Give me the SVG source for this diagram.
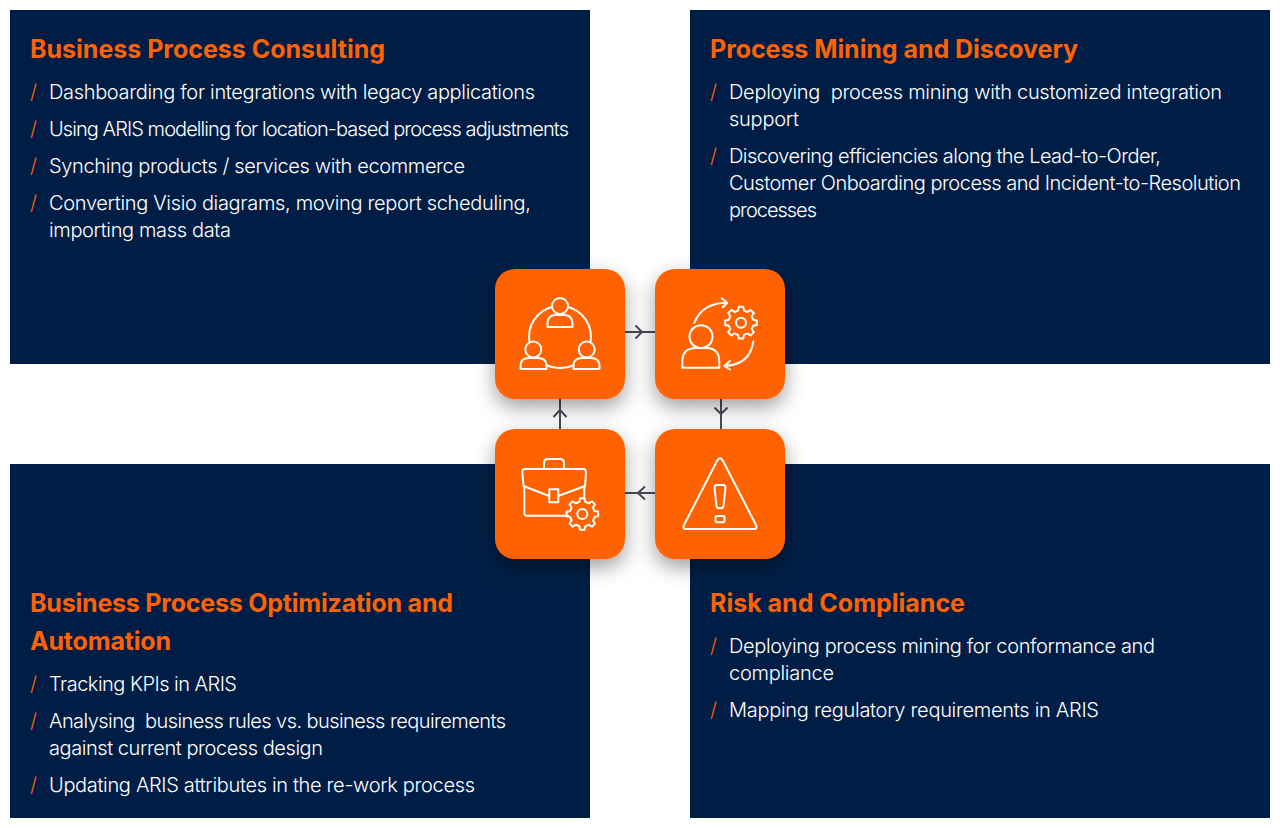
<svg xmlns="http://www.w3.org/2000/svg" width="1280" height="828" viewBox="0 0 1280 828">
<style>
.panel{fill:#001e45}
.card{fill:#ff6205;filter:url(#sh)}
.t{font-family:Inter,"Liberation Sans",sans-serif;font-weight:700;font-size:25px;fill:#ff6205;white-space:pre}
.b{font-family:Inter,"Liberation Sans",sans-serif;font-weight:300;font-size:20px;fill:#fff;white-space:pre}
.s{font-family:Inter,"Liberation Sans",sans-serif;font-weight:300;font-size:20px;fill:#ff6205}
.i{fill:none;stroke:#fff;stroke-width:2;stroke-linecap:round;stroke-linejoin:round}
.f{fill:#ff6205}
.c{fill:none;stroke:#4a4a58;stroke-width:2}
</style>
<defs>
<filter id="sh" x="-40%" y="-40%" width="180%" height="190%"><feDropShadow dx="0" dy="8" stdDeviation="10" flood-color="#000" flood-opacity="0.38"/></filter>
<g id="gear"><polygon points="12.13,-3.02 15.84,-2.23 15.84,2.23 12.13,3.02 10.71,6.44 12.78,9.62 9.62,12.78 6.44,10.71 3.02,12.13 2.23,15.84 -2.23,15.84 -3.02,12.13 -6.44,10.71 -9.62,12.78 -12.78,9.62 -10.71,6.44 -12.13,3.02 -15.84,2.23 -15.84,-2.23 -12.13,-3.02 -10.71,-6.44 -12.78,-9.62 -9.62,-12.78 -6.44,-10.71 -3.02,-12.13 -2.23,-15.84 2.23,-15.84 3.02,-12.13 6.44,-10.71 9.62,-12.78 12.78,-9.62 10.71,-6.44"/><circle r="5"/></g>
</defs>
<rect width="1280" height="828" fill="#fff"/>
<g id="panel-consulting">
<rect class="panel" x="10" y="10" width="580" height="354"/>
<text class="t" x="30" y="58" textLength="355">Business Process Consulting</text>
<text class="s" x="30" y="99">/</text><text class="b" x="49" y="99" textLength="486">Dashboarding for integrations with legacy applications</text>
<text class="s" x="30" y="136">/</text><text class="b" x="49" y="136" textLength="520">Using ARIS modelling for location-based process adjustments</text>
<text class="s" x="30" y="173">/</text><text class="b" x="49" y="173" textLength="416">Synching products / services with ecommerce</text>
<text class="s" x="30" y="210">/</text><text class="b" x="49" y="210" textLength="482">Converting Visio diagrams, moving report scheduling,</text>
<text class="b" x="49" y="237" textLength="182">importing mass data</text>
</g>
<g id="panel-mining">
<rect class="panel" x="690" y="10" width="580" height="354"/>
<text class="t" x="710" y="58" textLength="368">Process Mining and Discovery</text>
<text class="s" x="710" y="99">/</text><text class="b" x="729" y="99" textLength="493">Deploying  process mining with customized integration</text>
<text class="b" x="729" y="126" textLength="70">support</text>
<text class="s" x="710" y="163">/</text><text class="b" x="729" y="163" textLength="432">Discovering efficiencies along the Lead-to-Order,</text>
<text class="b" x="729" y="190" textLength="512">Customer Onboarding process and Incident-to-Resolution</text>
<text class="b" x="729" y="217" textLength="88">processes</text>
</g>
<g id="panel-optimization">
<rect class="panel" x="10" y="464" width="580" height="354"/>
<text class="t" x="30" y="612" textLength="423">Business Process Optimization and</text>
<text class="t" x="30" y="650" textLength="141">Automation</text>
<text class="s" x="30" y="691">/</text><text class="b" x="49" y="691" textLength="188">Tracking KPIs in ARIS</text>
<text class="s" x="30" y="728">/</text><text class="b" x="49" y="728" textLength="457">Analysing  business rules vs. business requirements</text>
<text class="b" x="49" y="755" textLength="274">against current process design</text>
<text class="s" x="30" y="792">/</text><text class="b" x="49" y="792" textLength="426">Updating ARIS attributes in the re-work process</text>
</g>
<g id="panel-risk">
<rect class="panel" x="690" y="464" width="580" height="354"/>
<text class="t" x="710" y="612" textLength="255">Risk and Compliance</text>
<text class="s" x="710" y="653">/</text><text class="b" x="729" y="653" textLength="426">Deploying process mining for conformance and</text>
<text class="b" x="729" y="680" textLength="105">compliance</text>
<text class="s" x="710" y="717">/</text><text class="b" x="729" y="717" textLength="370">Mapping regulatory requirements in ARIS</text>
</g>
<g id="connectors">
<path class="c" d="M625 332H655M635.5 325.5L642 332L635.5 338.5"/>
<path class="c" d="M721 399V429M714.5 407.5L721 414L727.5 407.5"/>
<path class="c" d="M655 493H625M645 486.5L638 493L645 499.5"/>
<path class="c" d="M560 429V399M553.5 417L560 410L566.5 417"/>
</g>
<g id="node-team">
<rect class="card" x="495" y="269" width="130" height="130" rx="20"/>
<g class="i">
<circle cx="560" cy="337" r="31"/>
<circle class="f" cx="560" cy="306" r="8"/>
<path class="f" d="M547.5 327V323Q548 315 556 315H564Q572 315 572.5 323V327Z"/>
<circle class="f" cx="533.3" cy="349.5" r="8"/>
<path class="f" d="M520.5 369V365Q521 358 529 358H538Q546 358 546.5 365V369Z"/>
<circle class="f" cx="586.7" cy="349.5" r="8"/>
<path class="f" d="M573.5 369V365Q574 358 582 358H591Q599 358 599.5 365V369Z"/>
</g>
</g>
<g id="node-mining">
<rect class="card" x="655" y="269" width="130" height="130" rx="20"/>
<g class="i">
<circle cx="701" cy="336.7" r="11.5"/>
<path d="M682.3 367.7V361Q682.5 348 696 348H706Q719 348 719.3 361V367.7Z"/>
<path d="M694.3 323Q702 303 726.7 302.7M721.7 298.3L727.3 302.7L722.7 307.3"/>
<path d="M753.3 341.5Q750 365 724.3 366M730 361L724.3 366L730 369.5"/>
<use href="#gear" x="741" y="322.7"/>
</g>
</g>
<g id="node-risk">
<rect class="card" x="655" y="429" width="130" height="130" rx="20"/>
<g class="i">
<path d="M717.5 460Q720 456.5 722.5 460L756 525Q757.5 529 754 529H686Q682.5 529 684 525Z"/>
<path d="M714.5 488Q714.5 485 717 485H723Q725.5 485 725.5 488L723.5 506Q723 508.3 721 508.3H719Q717 508.3 716.5 506Z"/>
<rect x="715.5" y="516" width="9" height="6.3" rx="1.5"/>
</g>
</g>
<g id="node-optimization">
<rect class="card" x="495" y="429" width="130" height="130" rx="20"/>
<g class="i">
<path d="M544 469V463Q544 459 548 459H560Q564 459 564 463V469"/>
<path d="M523.5 486L522.3 472Q522.3 469 525 469H583Q586 469 586 472L585 486L558.3 496M549.3 496L523.5 486"/>
<path d="M524.3 486V513Q524.3 515.7 527 515.7H568M584.3 486V499"/>
<rect x="549.3" y="489.3" width="9" height="13"/>
<use href="#gear" x="582.3" y="514"/>
</g>
</g>
</svg>
